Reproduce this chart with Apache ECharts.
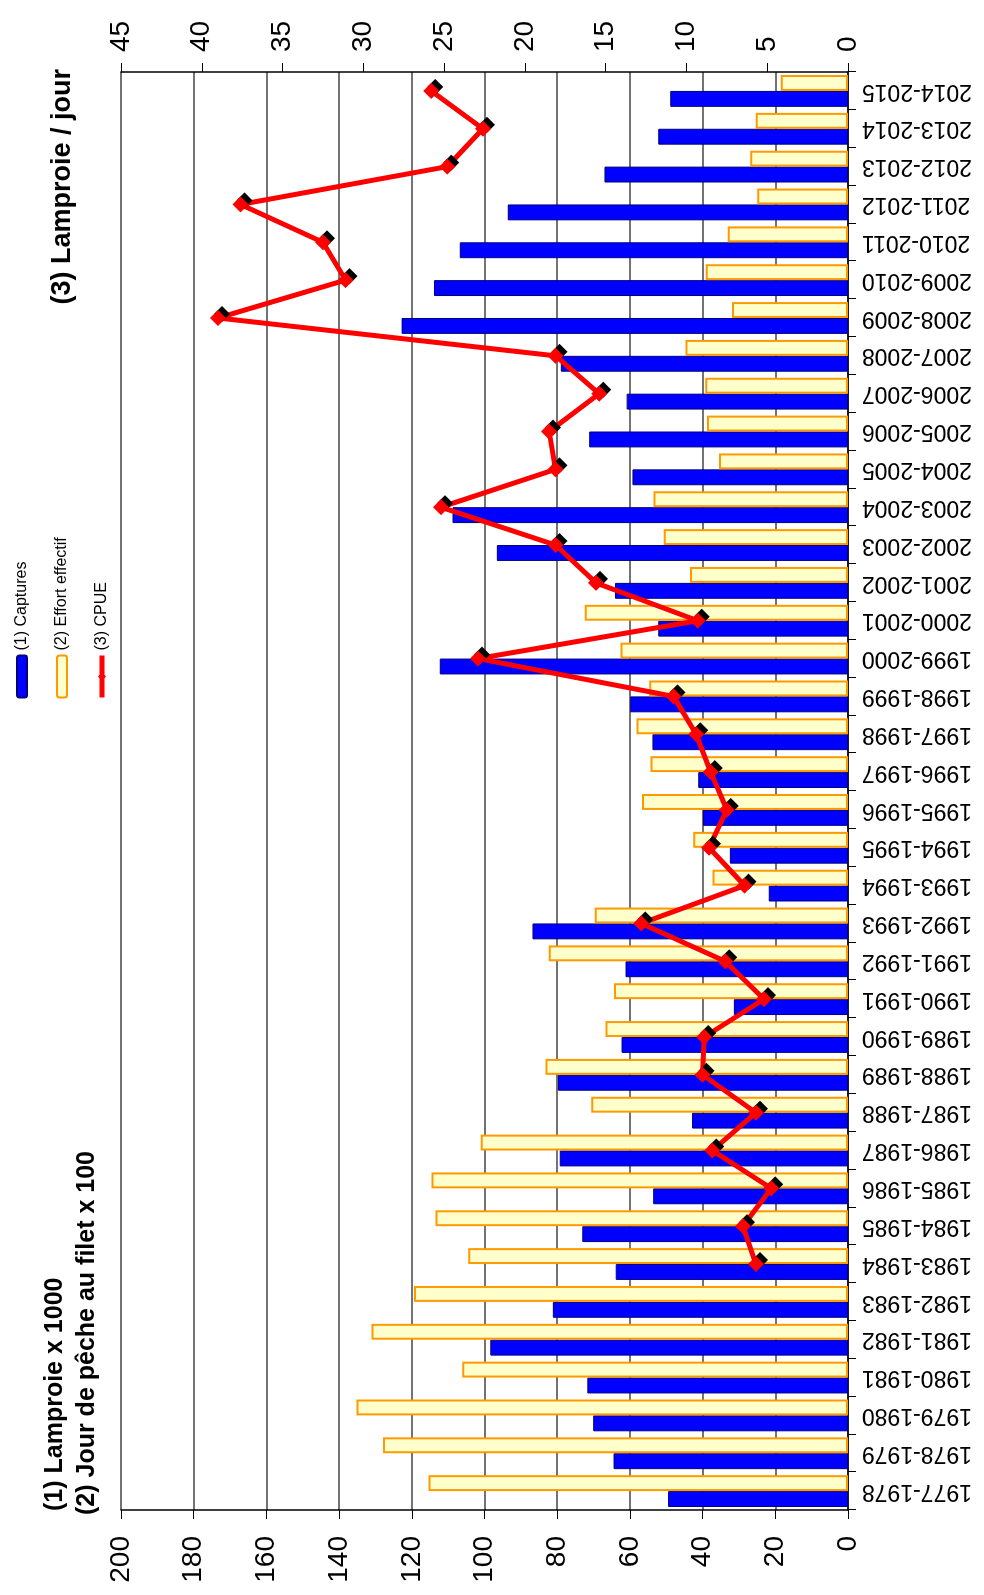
<!DOCTYPE html>
<html>
<head>
<meta charset="utf-8">
<title>Lamproie</title>
<script src="https://cdn.jsdelivr.net/npm/echarts@6/dist/echarts.min.js"></script>
<style>
    html, body { margin: 0; padding: 0; background: #fff; overflow: hidden; }
    /* le graphique est dessiné à l'horizontale puis tourné de 90° */
    #chart {
        position: absolute; left: 0; top: 0;
        width: 1595px; height: 984px;
        transform-origin: 0 0;
        transform: translateY(1595px) rotate(-90deg);
    }
</style>
</head>
<body>
<div id="chart"></div>
<script>
// saisons
var saisons = ['1977-1978', '1978-1979', '1979-1980', '1980-1981', '1981-1982', '1982-1983',
    '1983-1984', '1984-1985', '1985-1986', '1986-1987', '1987-1988', '1988-1989', '1989-1990',
    '1990-1991', '1991-1992', '1992-1993', '1993-1994', '1994-1995', '1995-1996', '1996-1997',
    '1997-1998', '1998-1999', '1999-2000', '2000-2001', '2001-2002', '2002-2003', '2003-2004',
    '2004-2005', '2005-2006', '2006-2007', '2007-2008', '2008-2009', '2009-2010', '2010-2011',
    '2011-2012', '2012-2013', '2013-2014', '2014-2015'];

// (1) Captures : lamproie x 1000
var captures = [49.5, 64.5, 70.1, 71.7, 98.4, 81.2, 63.9, 73.1, 53.6, 79.3, 42.9, 79.8, 62.3,
    31.4, 61.2, 86.8, 21.8, 32.5, 39.9, 41.2, 53.8, 59.9, 112.3, 52.2, 64.1, 96.6, 108.8,
    59.3, 71.2, 60.9, 79.0, 122.8, 113.9, 106.8, 93.6, 67.0, 52.2, 48.9];

// (2) Effort effectif : jour de pêche au filet x 100
var effort = [115.4, 127.9, 135.2, 106.1, 131.1, 119.4, 104.5, 113.5, 114.6, 101.0, 70.6, 83.2,
    66.7, 64.4, 82.3, 69.7, 37.3, 42.6, 56.7, 54.3, 58.2, 54.7, 62.6, 72.4, 43.5, 50.7, 53.5,
    35.5, 38.8, 39.3, 44.7, 31.9, 39.1, 33.1, 25.0, 26.9, 25.4, 18.5];

// (3) CPUE : lamproie / jour (pas de valeur avant 1983)
var cpue = [null, null, null, null, null, null, 5.7, 6.5, 4.75, 8.4, 5.7, 9.0, 8.9, 5.2, 7.6,
    12.8, 6.4, 8.6, 7.5, 8.5, 9.4, 10.8, 22.9, 9.3, 15.6, 18.1, 25.2, 18.1, 18.5, 15.4, 18.1,
    39.0, 31.1, 32.5, 37.6, 24.8, 22.6, 25.8];

var noms = ['(1) Captures', '(2) Effort effectif', '(3) CPUE'];

var police = 'Liberation Sans, Arial, sans-serif';

var e = echarts.init(document.getElementById('chart'), null, {renderer: 'canvas'});

var option = {
    animation: false,
    backgroundColor: '#fff',
    textStyle: { fontFamily: police, color: '#000' },
    title: [
        {
            text: '(1) Lamproie x 1000',
            left: 84, top: 43, padding: 0,
            textStyle: { fontFamily: police, fontSize: 25, fontWeight: 'bold', color: '#000' }
        },
        {
            text: '(2) Jour de pêche au filet x 100',
            left: 80, top: 75, padding: 0,
            textStyle: { fontFamily: police, fontSize: 25, fontWeight: 'bold', color: '#000' }
        },
        {
            text: '(3) Lamproie / jour',
            right: 69, top: 49, padding: 0,
            textStyle: { fontFamily: police, fontSize: 27, fontWeight: 'bold', color: '#000' }
        }
    ],
    legend: {
        orient: 'vertical',
        left: 890,
        top: 9,
        itemWidth: 42,
        itemHeight: 10,
        itemGap: 24,
        data: [
            { name: noms[0] },
            { name: noms[1] },
            { name: noms[2], lineStyle: { width: 5 } }
        ],
        textStyle: { fontFamily: police, fontSize: 16, color: '#000' }
    },
    grid: {
        left: 85,
        right: 72,
        top: 121,
        bottom: 136,
        containLabel: false
    },
    xAxis: {
        type: 'category',
        data: saisons,
        axisLine: { lineStyle: { color: '#000', width: 1.5 } },
        axisTick: { show: true, length: 8, lineStyle: { color: '#000' } },
        axisLabel: {
            interval: 0,
            rotate: 90,
            margin: 14,
            fontSize: 23,
            color: '#000',
            fontFamily: police
        }
    },
    yAxis: [
        {
            type: 'value',
            position: 'left',
            min: 0,
            max: 200,
            interval: 20,
            axisLine: { show: true, lineStyle: { color: '#000', width: 1.5 } },
            axisTick: { show: true, length: 9, lineStyle: { color: '#000' } },
            splitLine: { show: true, lineStyle: { color: '#444', width: 1.5 } },
            axisLabel: { fontSize: 28, margin: 26, color: '#000', fontFamily: police }
        },
        {
            type: 'value',
            position: 'right',
            min: 0,
            max: 45,
            interval: 5,
            axisLine: { show: true, lineStyle: { color: '#000', width: 1.5 } },
            axisTick: { show: true, length: 9, lineStyle: { color: '#000' } },
            splitLine: { show: false },
            axisLabel: { fontSize: 28, margin: 20, color: '#000', fontFamily: police }
        }
    ],
    series: [
        {
            name: noms[0],
            type: 'bar',
            data: captures,
            barGap: '0%',
            barCategoryGap: '16%',
            itemStyle: { color: '#0000FF', borderColor: '#000080', borderWidth: 1 }
        },
        {
            name: noms[1],
            type: 'bar',
            data: effort,
            itemStyle: { color: '#FFFFCC', borderColor: '#FF9900', borderWidth: 2 }
        },
        {
            name: noms[2],
            type: 'line',
            yAxisIndex: 1,
            data: cpue,
            connectNulls: false,
            symbol: 'diamond',
            symbolSize: 16,
            lineStyle: { color: '#FF0000', width: 5 },
            itemStyle: {
                color: '#FF0000',
                shadowColor: '#000',
                shadowBlur: 0,
                shadowOffsetX: 4,
                shadowOffsetY: 4
            }
        }
    ]
};
e.setOption(option);
</script>
</body>
</html>
